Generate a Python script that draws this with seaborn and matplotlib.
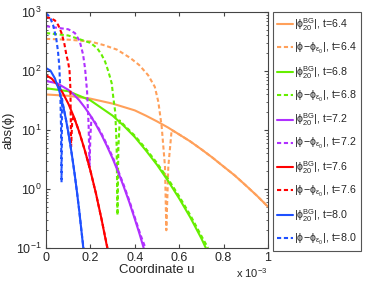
import numpy as np
import matplotlib
matplotlib.use("Agg")
import matplotlib.pyplot as plt
import seaborn as sns
import pandas as pd

# time labels and colours
times = ["6.4", "6.8", "7.2", "7.6", "8.0"]
colors = ["#FFA05A", "#66EE00", "#B030FF", "#FF0000", "#1E50FF"]

# |phi_20^BG| curves (u in units of 1e-3)
bg_u = {
    "6.4": [0, 0.1, 0.2, 0.3, 0.4, 0.45, 0.5, 0.55, 0.6, 0.65, 0.7, 0.75,
            0.8, 0.85, 0.9, 0.95, 1.0],
    "6.8": [0, 0.1, 0.2, 0.3, 0.35, 0.4, 0.45, 0.5, 0.55, 0.6, 0.65, 0.7,
            0.72],
    "7.2": [0, 0.05, 0.1, 0.125, 0.15, 0.175, 0.2, 0.225, 0.25, 0.275, 0.3,
            0.325, 0.35, 0.375, 0.4, 0.42, 0.44],
    "7.6": [0, 0.025, 0.05, 0.075, 0.1, 0.125, 0.15, 0.175, 0.2, 0.225,
            0.25, 0.276],
    "8.0": [0, 0.02, 0.04, 0.06, 0.08, 0.09, 0.1, 0.11, 0.12, 0.13, 0.14,
            0.15, 0.16, 0.168],
}
bg_val = {
    "6.4": [40, 38, 34, 28, 21.5, 17.5, 14, 11, 8.4, 6.4, 4.7, 3.4,
            2.4, 1.7, 1.15, 0.77, 0.5],
    "6.8": [51, 45.5, 31.8, 17.5, 11.8, 7.6, 4.5, 2.57, 1.37, 0.69, 0.33,
            0.145, 0.1],
    "7.2": [67.6, 62, 48, 40, 31.8, 24, 17.6, 12.3, 8.3, 5.3, 3.3,
            1.94, 1.1, 0.6, 0.31, 0.18, 0.1],
    "7.6": [85, 74.5, 59, 42.8, 28.2, 16.9, 9.2, 4.5, 2.04, 0.84,
            0.31, 0.1],
    "8.0": [112, 101.6, 75, 45.8, 22.9, 15, 9.3, 5.5, 3.1, 1.68, 0.86,
            0.42, 0.19, 0.1],
}

# |phi - phi_eps0| curves
diff_u = {
    "6.4": [0, 0.1, 0.2, 0.26, 0.32, 0.38, 0.42, 0.46, 0.49, 0.506, 0.521,
            0.536, 0.542, 0.551, 0.566, 0.6, 0.65, 0.7, 0.75, 0.8, 0.85,
            0.9, 0.95, 1.0],
    "6.8": [0, 0.1, 0.2, 0.23, 0.25, 0.266, 0.281, 0.296, 0.303, 0.312,
            0.318, 0.322, 0.326, 0.332, 0.35, 0.4, 0.45, 0.5, 0.55, 0.6,
            0.65, 0.7, 0.73],
    "7.2": [0, 0.05, 0.1, 0.13, 0.152, 0.167, 0.176, 0.185, 0.192, 0.196,
            0.2, 0.205, 0.225, 0.25, 0.275, 0.3, 0.325, 0.35, 0.375, 0.4,
            0.425, 0.448],
    "7.6": [0, 0.02, 0.04, 0.055, 0.07, 0.082, 0.092, 0.1, 0.106, 0.11,
            0.113, 0.118, 0.124, 0.15, 0.175, 0.2, 0.225, 0.25, 0.277],
    "8.0": [0, 0.017, 0.032, 0.046, 0.054, 0.06, 0.064, 0.068, 0.07, 0.072,
            0.08, 0.09, 0.1, 0.11, 0.12, 0.13, 0.14, 0.15, 0.16, 0.169],
}
diff_val = {
    "6.4": [350, 340, 316, 275, 230, 166, 126, 85, 54, 30, 11.5,
            2.4, 0.2, 2.4, 10, 8.4, 6.4, 4.7, 3.4, 2.4, 1.7,
            1.15, 0.77, 0.5],
    "6.8": [440, 400, 300, 245, 190, 145, 98, 62, 36, 20,
            5.6, 0.36, 5, 14.5, 12.3, 8, 4.8, 2.75, 1.48, 0.75,
            0.36, 0.16, 0.1],
    "7.2": [575, 540, 510, 440, 320, 190, 110, 45, 12, 2.4,
            8, 16.5, 12.8, 8.7, 5.6, 3.5, 2.05, 1.17, 0.64, 0.33,
            0.17, 0.1],
    "7.6": [820, 790, 720, 600, 440, 300, 185, 140, 100, 50,
            5.2, 14, 17.4, 9.2, 4.5, 2.04, 0.84, 0.31, 0.1],
    "8.0": [950, 830, 600, 360, 215, 120, 50, 10, 1.3, 34,
            22.9, 15, 9.3, 5.5, 3.1, 1.68, 0.86, 0.42, 0.19, 0.1],
}

rows = []
for t in times:
    for u, v in zip(bg_u[t], bg_val[t]):
        rows.append({"u": u, "val": v, "t": t, "kind": "bg"})
    for u, v in zip(diff_u[t], diff_val[t]):
        rows.append({"u": u, "val": v, "t": t, "kind": "diff"})
df = pd.DataFrame(rows)

sns.set_style("ticks")
plt.rcParams["font.family"] = ["Liberation Sans", "DejaVu Sans"]
plt.rcParams["mathtext.default"] = "regular"
plt.rcParams["mathtext.fontset"] = "custom"
plt.rcParams["mathtext.rm"] = "Liberation Sans"
plt.rcParams["mathtext.it"] = "Liberation Sans"

fig = plt.figure(figsize=(3.74, 2.89), dpi=100)
ax = fig.add_axes([46 / 374, 1 - 248 / 289, 222 / 374, 236 / 289])

for t, c in zip(times, colors):
    sub = df[(df.t == t) & (df.kind == "bg")]
    sns.lineplot(x="u", y="val", data=sub, ax=ax, color=c, lw=1.5,
                 estimator=None, sort=False,
                 label=r"$|\phi^{BG}_{20}|$, t=" + t)
    sub = df[(df.t == t) & (df.kind == "diff")]
    sns.lineplot(x="u", y="val", data=sub, ax=ax, color=c, lw=1.5,
                 estimator=None, sort=False,
                 label=r"$|\phi\!-\!\phi_{\varepsilon_0}|$, t=" + t)
    ax.lines[-1].set_dashes((2, 1.3))

ax.set_yscale("log")
ax.set_xlim(0, 1)
ax.set_ylim(0.1, 1000)
ax.set_xticks([0, 0.2, 0.4, 0.6, 0.8, 1.0])
ax.set_xticklabels(["0", "0.2", "0.4", "0.6", "0.8", "1"])
ax.tick_params(which="both", direction="in", top=True, right=True,
               labelsize=9, color="#444444", pad=3)
ax.tick_params(which="major", length=3)
ax.tick_params(which="minor", length=1.5)
for s in ax.spines.values():
    s.set_color("#444444")
    s.set_linewidth(0.8)
ax.set_xlabel("Coordinate u", fontsize=9.5, labelpad=0)
ax.set_ylabel("abs(ϕ)", fontsize=9.5, labelpad=1)
fig.text(236 / 374, 1 - 273 / 289, r"x 10$^{-3}$", fontsize=8, va="center")

leg = ax.legend(loc="upper left", bbox_to_anchor=(273 / 374, 1 - 12 / 289),
                bbox_transform=fig.transFigure, borderaxespad=0,
                fontsize=7.7, handlelength=1.45, handletextpad=0.15,
                labelspacing=0.74, fancybox=False, framealpha=1,
                borderpad=0.4)
leg.get_frame().set_edgecolor("#555555")
leg.get_frame().set_linewidth(0.8)

plt.savefig("out.png", dpi=100)
